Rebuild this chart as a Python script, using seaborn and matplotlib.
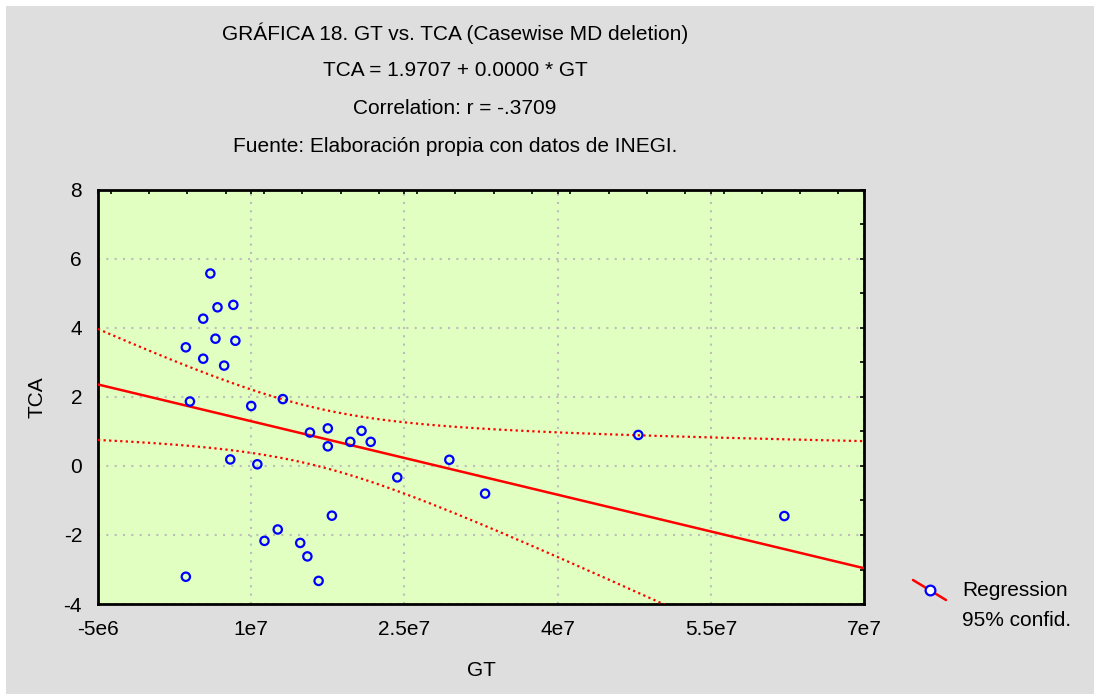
import numpy as np
import pandas as pd
import matplotlib
matplotlib.use("Agg")
import matplotlib.pyplot as plt
from matplotlib.lines import Line2D
from matplotlib.patches import Rectangle
from matplotlib.ticker import MultipleLocator
import seaborn as sns

# GT / TCA values
gt = [3.6e6, 3.6e6, 4.0e6, 5.3e6, 5.3e6, 6.0e6, 6.7e6, 6.5e6, 7.35e6, 8.25e6,
      8.45e6, 7.95e6, 1.0e7, 1.06e7, 1.31e7, 1.13e7, 1.26e7, 1.48e7, 1.55e7,
      1.66e7, 1.575e7, 1.75e7, 1.75e7, 1.79e7, 1.97e7, 2.08e7, 2.17e7,
      2.43e7, 2.94e7, 3.29e7, 4.79e7, 6.22e7]
tca = [-3.21, 3.44, 1.87, 4.27, 3.11, 5.58, 4.60, 3.69, 2.91, 4.67,
       3.63, 0.19, 1.74, 0.05, 1.94, -2.17, -1.84, -2.23, -2.62,
       -3.33, 0.97, 1.09, 0.57, -1.44, 0.70, 1.02, 0.70,
       -0.33, 0.18, -0.80, 0.90, -1.45]

title_lines = [
    "GRÁFICA 18. GT vs. TCA (Casewise MD deletion)",
    "TCA = 1.9707 + 0.0000 * GT",
    "Correlation: r = -.3709",
    "Fuente: Elaboración propia con datos de INEGI.",
]
x_ticks = [-5e6, 1e7, 2.5e7, 4e7, 5.5e7, 7e7]
x_tick_labels = ["-5e6", "1e7", "2.5e7", "4e7", "5.5e7", "7e7"]

BG = "#dedede"
PLOT_BG = "#e0ffc0"
FS = 15

df = pd.DataFrame({"GT": gt, "TCA": tca})

# linear fit + 95% confidence band of the mean
x = df["GT"].to_numpy()
y = df["TCA"].to_numpy()
n = len(x)
b, a = np.polyfit(x, y, 1)
resid = y - (a + b * x)
s = np.sqrt(np.sum(resid ** 2) / (n - 2))
sxx = np.sum((x - x.mean()) ** 2)
t_crit = 2.042
xg = np.linspace(-5e6, 7e7, 300)
yg = a + b * xg
half = t_crit * s * np.sqrt(1 / n + (xg - x.mean()) ** 2 / sxx)

sns.set_style("white")
plt.rcParams["font.family"] = ["Liberation Sans", "DejaVu Sans"]
plt.rcParams["text.color"] = "black"
plt.rcParams["axes.labelcolor"] = "black"
plt.rcParams["xtick.color"] = "black"
plt.rcParams["ytick.color"] = "black"
plt.rcParams["axes.unicode_minus"] = False

fig = plt.figure(figsize=(10.94, 6.94), dpi=100)
fig.patch.set_facecolor("white")
fig.patches.append(Rectangle((6 / 1094, 0), 1, 688 / 694, transform=fig.transFigure,
                             facecolor=BG, edgecolor="none", zorder=-10))

ax = fig.add_axes([98 / 1094, 1 - 604 / 694, 766 / 1094, 414 / 694])
ax.set_facecolor(PLOT_BG)

ax.plot(xg, yg, color="#ff0000", lw=1.8, zorder=3)
ax.plot(xg, yg + half, color="#ff0000", lw=1.6, ls=(0, (1, 1.5)), zorder=3)
ax.plot(xg, yg - half, color="#ff0000", lw=1.6, ls=(0, (1, 1.5)), zorder=3)

sns.scatterplot(data=df, x="GT", y="TCA", ax=ax, marker="o", s=36,
                facecolor="none", edgecolor="#0000ff", linewidth=1.6, zorder=4)

ax.set_xlim(-5e6, 7e7)
ax.set_ylim(-4, 8)
ax.set_xticks(x_ticks)
ax.set_xticklabels(x_tick_labels)
ax.set_yticks([-4, -2, 0, 2, 4, 6, 8])
ax.xaxis.set_minor_locator(MultipleLocator(3.75e6))
ax.yaxis.set_minor_locator(MultipleLocator(1))
ax.tick_params(which="both", direction="in", top=True, right=True,
               length=3, width=1.2, color="black", labelsize=FS, pad=11.5)
ax.grid(True, which="major", color="#bdbdbd", ls=(0, (1, 3)), lw=1.5)
ax.set_axisbelow(True)
for sp in ax.spines.values():
    sp.set_color("black")
    sp.set_linewidth(2)

ax.set_xlabel("GT", fontsize=FS, labelpad=16)
ax.set_ylabel("TCA", fontsize=FS, labelpad=12)

for i, line in enumerate(title_lines):
    fig.text(455 / 1094, 1 - (33 + i * 37.7) / 694, line, ha="center", va="center",
             fontsize=FS)

# legend drawn by hand on the right side
fig.add_artist(Line2D([913 / 1094, 946 / 1094], [1 - 580 / 694, 1 - 600 / 694],
                      transform=fig.transFigure, color="#ff0000", lw=1.8))
fig.add_artist(Line2D([930 / 1094], [1 - 590 / 694], transform=fig.transFigure,
                      marker="o", ms=7, mfc="white", mec="#0000ff", mew=1.6, ls="none"))
fig.text(962 / 1094, 1 - 591 / 694, "Regression", ha="left", va="center", fontsize=FS)
fig.text(962 / 1094, 1 - 620 / 694, "95% confid.", ha="left", va="center", fontsize=FS)

fig.savefig("out.png", dpi=100, facecolor=fig.get_facecolor())
